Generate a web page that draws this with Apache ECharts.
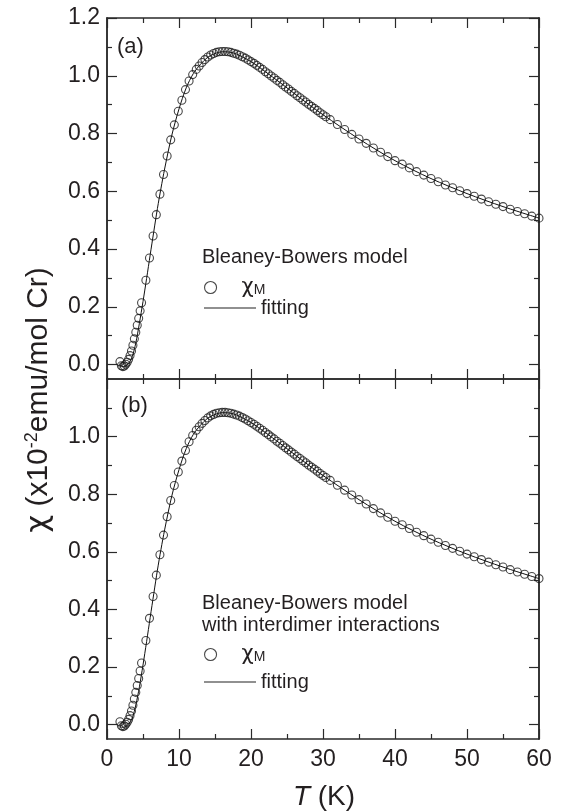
<!DOCTYPE html>
<html>
<head>
<meta charset="utf-8">
<script src="https://cdn.jsdelivr.net/npm/echarts@6.0.0/dist/echarts.min.js"></script>
<style>
  html, body { margin: 0; padding: 0; background: #fff; }
  #chart { width: 561px; height: 812px; }
</style>
</head>
<body>
<div id="chart"></div>
<script>
// measured chi_M (same data in both panels)
var temps = [1.8, 2.0, 2.2, 2.4, 2.6, 2.8, 3.0, 3.2, 3.4, 3.6, 3.8, 4.0, 4.2, 4.4, 4.6, 4.8,
  5.4, 5.9, 6.4, 6.85, 7.35, 7.85, 8.35, 8.85, 9.35, 9.9, 10.4, 10.9, 11.4, 11.9, 12.4,
  12.8, 13.2, 13.6, 14.0, 14.4, 14.8, 15.2, 15.6, 16.0, 16.4, 16.8, 17.2, 17.6, 18.0, 18.4,
  18.8, 19.2, 19.6, 20.0, 20.4, 20.8, 21.2, 21.6, 22.0, 22.4, 22.8, 23.2, 23.6, 24.0, 24.4,
  24.8, 25.2, 25.6, 26.0, 26.4, 26.8, 27.2, 27.6, 28.0, 28.4, 28.8, 29.2, 29.6, 30.0, 30.4,
  31, 32, 33, 34, 35, 36, 37, 38, 39, 40, 41, 42, 43, 44, 45,
  46, 47, 48, 49, 50, 51, 52, 53, 54, 55, 56, 57, 58, 59, 60];
var chiM = [0.010, -0.004, -0.007, -0.005, 0.001, 0.008, 0.018, 0.031, 0.047, 0.067, 0.089, 0.112, 0.136, 0.160, 0.186, 0.214,
  0.292, 0.369, 0.445, 0.519, 0.590, 0.658, 0.722, 0.778, 0.830, 0.877, 0.915, 0.952, 0.982, 1.004, 1.022,
  1.034, 1.046, 1.056, 1.065, 1.072, 1.077, 1.081, 1.083, 1.084, 1.084, 1.083, 1.081, 1.078, 1.075, 1.071,
  1.066, 1.061, 1.055, 1.049, 1.043, 1.036, 1.029, 1.022, 1.014, 1.007, 0.999, 0.992, 0.984, 0.977, 0.969,
  0.961, 0.954, 0.946, 0.939, 0.931, 0.924, 0.916, 0.909, 0.901, 0.894, 0.887, 0.880, 0.872, 0.865, 0.858,
  0.848, 0.831, 0.814, 0.797, 0.781, 0.766, 0.750, 0.735, 0.720, 0.706, 0.694, 0.681, 0.668, 0.656, 0.644,
  0.633, 0.622, 0.612, 0.602, 0.592, 0.583, 0.573, 0.564, 0.555, 0.547, 0.538, 0.530, 0.522, 0.514, 0.507];

// fitting curves
var fitTemps = [1.8, 2.0, 2.5, 3.0, 3.5, 4.0, 4.5, 5.0, 5.5, 6.0, 6.5, 7.0, 7.5, 8.0, 9.0, 10.0, 11.0, 12.0,
  13.0, 14.0, 15.0, 16.0, 17.0, 18.0, 20.0, 22.0, 24.0, 26.0, 28.0, 30.0, 35.0, 40.0, 45.0, 50.0, 55.0, 60.0];
var fitChiA = [-0.004, -0.007, -0.006, 0.004, 0.027, 0.075, 0.143, 0.218, 0.298, 0.380, 0.461, 0.540, 0.611, 0.677, 0.794, 0.885, 0.958, 1.008,
  1.040, 1.064, 1.077, 1.083, 1.082, 1.075, 1.049, 1.014, 0.977, 0.939, 0.901, 0.865, 0.781, 0.706, 0.644, 0.592, 0.547, 0.507];
var fitChiB = [-0.006, -0.009, -0.008, 0.002, 0.022, 0.068, 0.131, 0.207, 0.288, 0.372, 0.455, 0.536, 0.609, 0.676, 0.794, 0.885, 0.958, 1.008,
  1.040, 1.064, 1.077, 1.083, 1.082, 1.075, 1.049, 1.014, 0.977, 0.939, 0.901, 0.865, 0.781, 0.706, 0.644, 0.592, 0.547, 0.507];

var yMajorTop = [0, 0.2, 0.4, 0.6, 0.8, 1.0, 1.2];
var yMajorBottom = [0, 0.2, 0.4, 0.6, 0.8, 1.0];
var yMinor = [0.1, 0.3, 0.5, 0.7, 0.9, 1.1];

var lineColor = '#2a2a2a';
var textColor = '#231f20';
var font = '"Liberation Sans", Arial, Helvetica, sans-serif';
var greek = '"DejaVu Sans", sans-serif';

function pairs(xs, ys) {
  return xs.map(function (x, i) { return [x, ys[i]]; });
}

function makeX(grid, pos, labels) {
  return {
    type: 'value', gridIndex: grid, position: pos,
    min: 0, max: 60, interval: 10,
    axisLine: { show: true, onZero: false, lineStyle: { color: lineColor, width: 1.5 } },
    axisTick: { show: true, inside: true, length: 10, lineStyle: { color: lineColor, width: 1.2 } },
    minorTick: { show: true, splitNumber: 2, length: 5, lineStyle: { color: lineColor, width: 1.2 } },
    axisLabel: { show: labels, color: textColor, fontSize: 23, fontFamily: font, margin: 9 },
    splitLine: { show: false }
  };
}

function makeY(grid, pos, ticks, len, labels) {
  return {
    type: 'value', gridIndex: grid, position: pos,
    min: -0.05, max: 1.2,
    axisLine: { show: true, onZero: false, lineStyle: { color: lineColor, width: 1.5 } },
    axisTick: { show: true, inside: true, length: len, customValues: ticks, lineStyle: { color: lineColor, width: 1.2 } },
    axisLabel: {
      show: !!labels, customValues: labels || ticks, color: textColor, fontSize: 23, fontFamily: font, margin: 7,
      formatter: function (v) { return v.toFixed(1); }
    },
    splitLine: { show: false }
  };
}

var scatterStyle = {
  type: 'scatter', symbol: 'circle', symbolSize: 8,
  itemStyle: { color: 'rgba(0,0,0,0)', borderColor: '#1a1a1a', borderWidth: 1.1 },
  z: 3
};
var fitStyle = {
  type: 'line', smooth: 0.3, symbol: 'none',
  lineStyle: { color: '#111', width: 1 },
  itemStyle: { color: '#111' },
  z: 2
};

function legendItem(name, left, centerY) {
  var isLine = name === 'fitting';
  return {
    data: [isLine ? { name: name, icon: 'rect' } : { name: name, icon: 'circle' }],
    left: left, top: centerY - 10, padding: 0,
    itemWidth: 52, itemHeight: isLine ? 1.2 : 12, selectedMode: false,
    itemStyle: isLine ? { color: '#222' } : { color: 'rgba(0,0,0,0)', borderColor: '#1a1a1a', borderWidth: 1.1 },
    textStyle: {
      color: textColor, fontSize: 20, fontFamily: font, lineHeight: 20,
      rich: {
        c: { fontSize: 21, fontFamily: greek, color: textColor, lineHeight: 20 },
        s: { fontSize: 14, fontFamily: font, color: textColor, lineHeight: 6, verticalAlign: 'bottom' }
      }
    },
    formatter: function (n) { return n === 'χM' ? '{c|χ}{s|M}' : n; }
  };
}

var chart = echarts.init(document.getElementById('chart'), null, { renderer: 'canvas' });
chart.setOption({
  backgroundColor: '#fff',
  animation: false,
  grid: [
    { left: 107, right: 22, top: 18, height: 361, outerBoundsMode: 'none' },
    { left: 107, right: 22, top: 379, height: 360, outerBoundsMode: 'none' }
  ],
  xAxis: [
    makeX(0, 'bottom', false), makeX(0, 'top', false),
    makeX(1, 'bottom', true), makeX(1, 'top', false)
  ],
  yAxis: [
    makeY(0, 'left', yMajorTop, 10, yMajorTop), makeY(0, 'left', yMinor, 5),
    makeY(0, 'right', yMajorTop, 10), makeY(0, 'right', yMinor, 5),
    makeY(1, 'left', yMajorBottom, 10, yMajorBottom), makeY(1, 'left', yMinor, 5),
    makeY(1, 'right', yMajorBottom, 10), makeY(1, 'right', yMinor, 5)
  ],
  legend: [
    legendItem('χM', 204, 287),
    legendItem('fitting', 204, 308),
    legendItem('χM', 204, 654),
    legendItem('fitting', 204, 682)
  ],
  graphic: [
    { type: 'text', left: 117, top: 36, style: { text: '(a)', fontSize: 22, fontFamily: font, fill: textColor } },
    { type: 'text', left: 121, top: 395, style: { text: '(b)', fontSize: 22, fontFamily: font, fill: textColor } },
    { type: 'text', left: 202, top: 247, style: { text: 'Bleaney-Bowers model', fontSize: 20, fontFamily: font, fill: textColor } },
    { type: 'text', left: 202, top: 592, style: { text: 'Bleaney-Bowers model\nwith interdimer interactions', fontSize: 20, lineHeight: 22, fontFamily: font, fill: textColor } },
    {
      type: 'text', x: 39, y: 400, rotation: Math.PI / 2,
      style: {
        text: '{g|χ}{a| (x10}{b|-2}{a|emu/mol Cr)}',
        align: 'center', verticalAlign: 'middle', fill: textColor,
        rich: {
          g: { fontSize: 31, fontFamily: greek, fill: textColor, lineHeight: 32 },
          a: { fontSize: 30, fontFamily: font, fill: textColor, lineHeight: 32 },
          b: { fontSize: 18, fontFamily: font, fill: textColor, lineHeight: 18, verticalAlign: 'top' }
        }
      }
    },
    {
      type: 'text', x: 324, y: 797,
      style: {
        text: '{i|T}{a| (K)}',
        align: 'center', verticalAlign: 'middle', fill: textColor,
        rich: {
          i: { fontSize: 28, fontStyle: 'italic', fontFamily: font, fill: textColor },
          a: { fontSize: 28, fontFamily: font, fill: textColor }
        }
      }
    }
  ],
  series: [
    Object.assign({ name: 'χM', xAxisIndex: 0, yAxisIndex: 0, data: pairs(temps, chiM) }, scatterStyle),
    Object.assign({ name: 'fitting', xAxisIndex: 0, yAxisIndex: 0, data: pairs(fitTemps, fitChiA) }, fitStyle),
    Object.assign({ name: 'χM', xAxisIndex: 2, yAxisIndex: 4, data: pairs(temps, chiM) }, scatterStyle),
    Object.assign({ name: 'fitting', xAxisIndex: 2, yAxisIndex: 4, data: pairs(fitTemps, fitChiB) }, fitStyle)
  ]
});
</script>
</body>
</html>
